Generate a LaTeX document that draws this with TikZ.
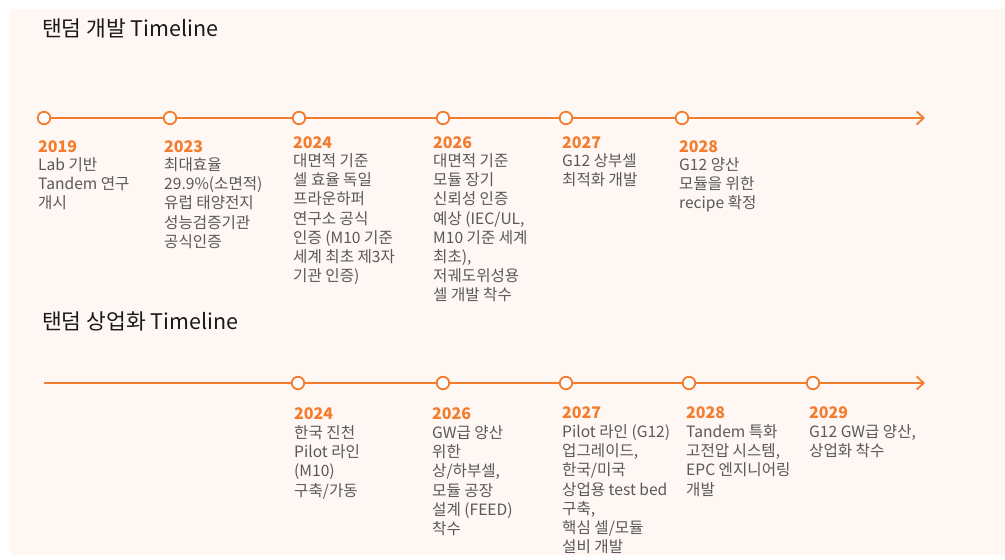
\documentclass[tikz,border=0pt]{standalone}
\usepackage{fontspec}
\setmainfont{Noto Sans CJK KR}
\usetikzlibrary{arrows.meta}
\usetikzlibrary{positioning}
\definecolor{tlorange}{HTML}{F47C2E}
\definecolor{tlbg}{HTML}{FEF7F3}
\definecolor{tltext}{HTML}{595959}
\tikzset{
    tline/.style={
           draw=tlorange, line width=1.8pt,
           -{Straight Barb[length=7pt,width=13pt]},
           },
    milestone/.style={
           circle,
           draw=tlorange, line width=1.8pt,
           fill=white,
           inner sep=0pt, minimum size=12.5pt,
           },
    title/.style={
           anchor=base west, inner sep=0pt,
           font=\fontsize{21.5}{25}\selectfont, text=black!90,
           },
    year/.style={
           anchor=base west, inner sep=0pt,
           font=\fontsize{16}{19}\bfseries, text=tlorange,
           },
    desc/.style={
           inner sep=0pt, align=left,
           font=\fontsize{15.6}{19.2}\selectfont, text=tltext,
           },
}

\begin{document}
\begin{tikzpicture}[x=1pt,y=-1pt]
\useasboundingbox (0,0) rectangle (1005,560);
\fill[tlbg] (10,9) rectangle (1005,555);

% titles
\node[title] (dtitle) at (42,36) {탠덤 개발 Timeline};
\node[title] (ctitle) at (42,329) {탠덤 상업화 Timeline};

% development timeline
\coordinate (dend) at (925,118);
\node[milestone] (d19) at (44,118) {};
\node[milestone] (d23) at (170,118) {};
\node[milestone] (d24) at (299,118) {};
\node[milestone] (d26) at (443,118) {};
\node[milestone] (d27) at (566,118) {};
\node[milestone] (d28) at (682,118) {};
\draw[tline] (d19) -- (d23) -- (d24) -- (d26) -- (d27) -- (d28) -- (dend);

\node[year] (dy19) at (38,152) {2019};
\node[year] (dy23) at (164,152) {2023};
\node[year] (dy24) at (293,148) {2024};
\node[year] (dy26) at (433,148) {2026};
\node[year] (dy27) at (562,148) {2027};
\node[year] (dy28) at (679,152) {2028};

\node[desc, below right=5pt and 0pt of dy19.south west] (dx19) {Lab 기반\\Tandem 연구\\개시};
\node[desc, below right=5pt and 0pt of dy23.south west] (dx23) {최대효율\\29.9\%(소면적)\\유럽 태양전지\\성능검증기관\\공식인증};
\node[desc, below right=5pt and 0pt of dy24.south west] (dx24) {대면적 기준\\셀 효율 독일\\프라운하퍼\\연구소 공식\\인증 (M10 기준\\세계 최초 제3자\\기관 인증)};
\node[desc, below right=5pt and 0pt of dy26.south west] (dx26) {대면적 기준\\모듈 장기\\신뢰성 인증\\예상 (IEC/UL,\\M10 기준 세계\\최초),\\저궤도위성용\\셀 개발 착수};
\node[desc, below right=5pt and 0pt of dy27.south west] (dx27) {G12 상부셀\\최적화 개발};
\node[desc, below right=5pt and 0pt of dy28.south west] (dx28) {G12 양산\\모듈을 위한\\recipe 확정};

% commercial timeline
\coordinate (cstart) at (44,383);
\coordinate (cend) at (925,383);
\node[milestone] (c24) at (298,383) {};
\node[milestone] (c26) at (443,383) {};
\node[milestone] (c27) at (566,383) {};
\node[milestone] (c28) at (689,383) {};
\node[milestone] (c29) at (813,383) {};
\draw[tline] (cstart) -- (c24) -- (c26) -- (c27) -- (c28) -- (c29) -- (cend);

\node[year] (cy24) at (294,419) {2024};
\node[year] (cy26) at (432,419) {2026};
\node[year] (cy27) at (562,418) {2027};
\node[year] (cy28) at (686,418) {2028};
\node[year] (cy29) at (809,418) {2029};

\node[desc, below right=6pt and 0pt of cy24.south west] (cx24) {한국 진천\\Pilot 라인\\(M10)\\구축/가동};
\node[desc, below right=6pt and 0pt of cy26.south west] (cx26) {GW급 양산\\위한\\상/하부셀,\\모듈 공장\\설계 (FEED)\\착수};
\node[desc, below right=6pt and 0pt of cy27.south west] (cx27) {Pilot 라인 (G12)\\업그레이드,\\한국/미국\\상업용 test bed\\구축,\\핵심 셀/모듈\\설비 개발};
\node[desc, below right=6pt and 0pt of cy28.south west] (cx28) {Tandem 특화\\고전압 시스템,\\EPC 엔지니어링\\개발};
\node[desc, below right=6pt and 0pt of cy29.south west] (cx29) {G12 GW급 양산,\\상업화 착수};
\end{tikzpicture}
\end{document}
